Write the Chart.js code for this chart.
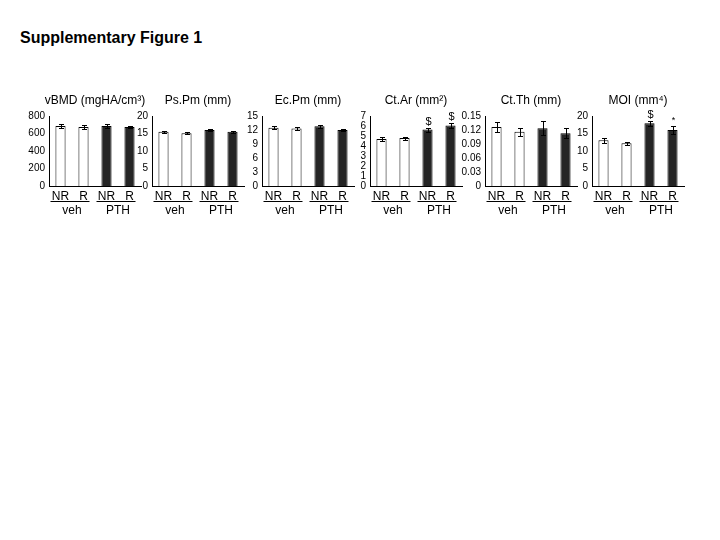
<!DOCTYPE HTML>
<html>
<head>
  <title>Supplementary Figure 1</title>
  <script src="https://cdn.jsdelivr.net/npm/chart.js"></script>
  <style>
    body { margin: 0; background: #fff; font-family: "Liberation Sans", Arial, sans-serif; }
    #page { position: relative; width: 720px; height: 540px; }
    h1 { position: absolute; left: 20px; top: 29px; margin: 0; font-size: 16px; font-weight: bold; }
    canvas { position: absolute; }
  </style>
</head>
<body>
  <div id="page">
    <h1>Supplementary Figure 1</h1>
  </div>
  <script>
    // data
    const categories = ['NR', 'R', 'NR', 'R'];
    const groups = ['veh', 'PTH'];
    const titles = ['vBMD (mgHA/cm³)', 'Ps.Pm (mm)', 'Ec.Pm (mm)', 'Ct.Ar (mm²)', 'Ct.Th (mm)', 'MOI (mm⁴)'];

    const vbmd = [686, 675, 686, 675];
    const vbmdErr = [25, 20, 20, 15];
    const psPm = [15.5, 15.1, 16.0, 15.5];
    const psPmErr = [0.3, 0.3, 0.3, 0.3];
    const ecPm = [12.5, 12.3, 12.8, 12.0];
    const ecPmErr = [0.3, 0.25, 0.3, 0.3];
    const ctAr = [4.7, 4.8, 5.65, 6.05];
    const ctArErr = [0.18, 0.15, 0.2, 0.25];
    const ctTh = [0.1265, 0.116, 0.124, 0.113];
    const ctThErr = [0.011, 0.009, 0.015, 0.011];
    const moi = [13.1, 12.2, 17.9, 16.0];
    const moiErr = [0.7, 0.5, 0.8, 1.1];

    const yMax = [800, 20, 15, 7, 0.15, 20];
    const yStep = [200, 5, 3, 1, 0.03, 5];
    const marks = [[], [], [], ['', '', '$', '$'], [], ['', '', '$', '*']];

    const means = [vbmd, psPm, ecPm, ctAr, ctTh, moi];
    const errs = [vbmdErr, psPmErr, ecPmErr, ctArErr, ctThErr, moiErr];
    const axisX = [49, 152, 262, 370, 485, 592];

    const FONT = '"Liberation Sans", Arial, sans-serif';
    const SIDE = 40, PLOT_W = 92;

    // panel title, error bars, significance marks and veh/PTH group labels
    const extras = {
      id: 'extras',
      afterDatasetsDraw(chart, args, p) {
        const { ctx, scales: { x, y }, chartArea } = chart;
        ctx.save();
        ctx.strokeStyle = '#000';
        ctx.fillStyle = '#000';
        ctx.lineWidth = 1;

        ctx.font = '12px ' + FONT;
        ctx.textAlign = 'center';
        ctx.textBaseline = 'middle';
        ctx.fillText(p.title, (chartArea.left + chartArea.right) / 2, chartArea.top - 15);

        p.means.forEach((m, i) => {
          const cx = Math.round(x.getPixelForValue(i)) + 0.5;
          const top = Math.round(y.getPixelForValue(m + p.errs[i])) + 0.5;
          const bot = Math.round(y.getPixelForValue(m - p.errs[i])) + 0.5;
          ctx.beginPath();
          ctx.moveTo(cx, top); ctx.lineTo(cx, bot);
          ctx.moveTo(cx - 2.5, top); ctx.lineTo(cx + 2.5, top);
          ctx.moveTo(cx - 2.5, bot); ctx.lineTo(cx + 2.5, bot);
          ctx.stroke();
          const mk = p.marks[i];
          if (mk) {
            ctx.font = (mk === '*' ? '9px ' : '11px ') + FONT;
            ctx.textAlign = 'center';
            ctx.textBaseline = 'bottom';
            ctx.fillText(mk, cx, top - 1);
          }
        });
        groups.forEach((g, gi) => {
          const x0 = x.getPixelForValue(gi * 2);
          const x1 = x.getPixelForValue(gi * 2 + 1);
          const ly = Math.round(chartArea.bottom + 15) + 0.5;
          ctx.beginPath();
          ctx.moveTo(x0 - 10, ly); ctx.lineTo(x1 + 6, ly);
          ctx.stroke();
          ctx.font = '12px ' + FONT;
          ctx.textAlign = 'center';
          ctx.textBaseline = 'middle';
          ctx.fillText(g, (x0 + x1) / 2, chartArea.bottom + 25);
        });
        ctx.restore();
      }
    };

    const page = document.getElementById('page');
    titles.forEach((t, k) => {
      const cv = document.createElement('canvas');
      cv.width = SIDE * 2 + PLOT_W;
      cv.height = 140;
      cv.style.left = (axisX[k] - SIDE) + 'px';
      cv.style.top = '88px';
      page.appendChild(cv);
      new Chart(cv, {
        type: 'bar',
        data: {
          labels: categories,
          datasets: [{
            data: means[k],
            backgroundColor: ['#fff', '#fff', '#252525', '#252525'],
            borderColor: '#000',
            borderWidth: 1,
            barPercentage: 0.44,
            categoryPercentage: 1
          }]
        },
        options: {
          responsive: false,
          animation: false,
          devicePixelRatio: 1,
          layout: { padding: { top: 28, right: SIDE, left: 0 } },
          plugins: {
            legend: { display: false },
            tooltip: { enabled: false },
            title: { display: false },
            extras: { title: t, means: means[k], errs: errs[k], marks: marks[k] }
          },
          scales: {
            x: {
              grid: { display: false, drawTicks: false },
              border: { display: true, color: '#000', width: 1 },
              ticks: { color: '#000', font: { family: FONT, size: 12 }, padding: 3, maxRotation: 0, autoSkip: false },
              afterFit: s => { s.height = 42; }
            },
            y: {
              min: 0, max: yMax[k],
              grid: { display: false, drawTicks: false },
              border: { display: true, color: '#000', width: 1 },
              ticks: {
                stepSize: yStep[k], color: '#000', padding: 4, autoSkip: false,
                font: { family: FONT, size: 10 },
                callback: v => String(+v.toFixed(2))
              },
              afterFit: s => { s.width = SIDE; }
            }
          }
        },
        plugins: [extras]
      });
    });
  </script>
</body>
</html>
